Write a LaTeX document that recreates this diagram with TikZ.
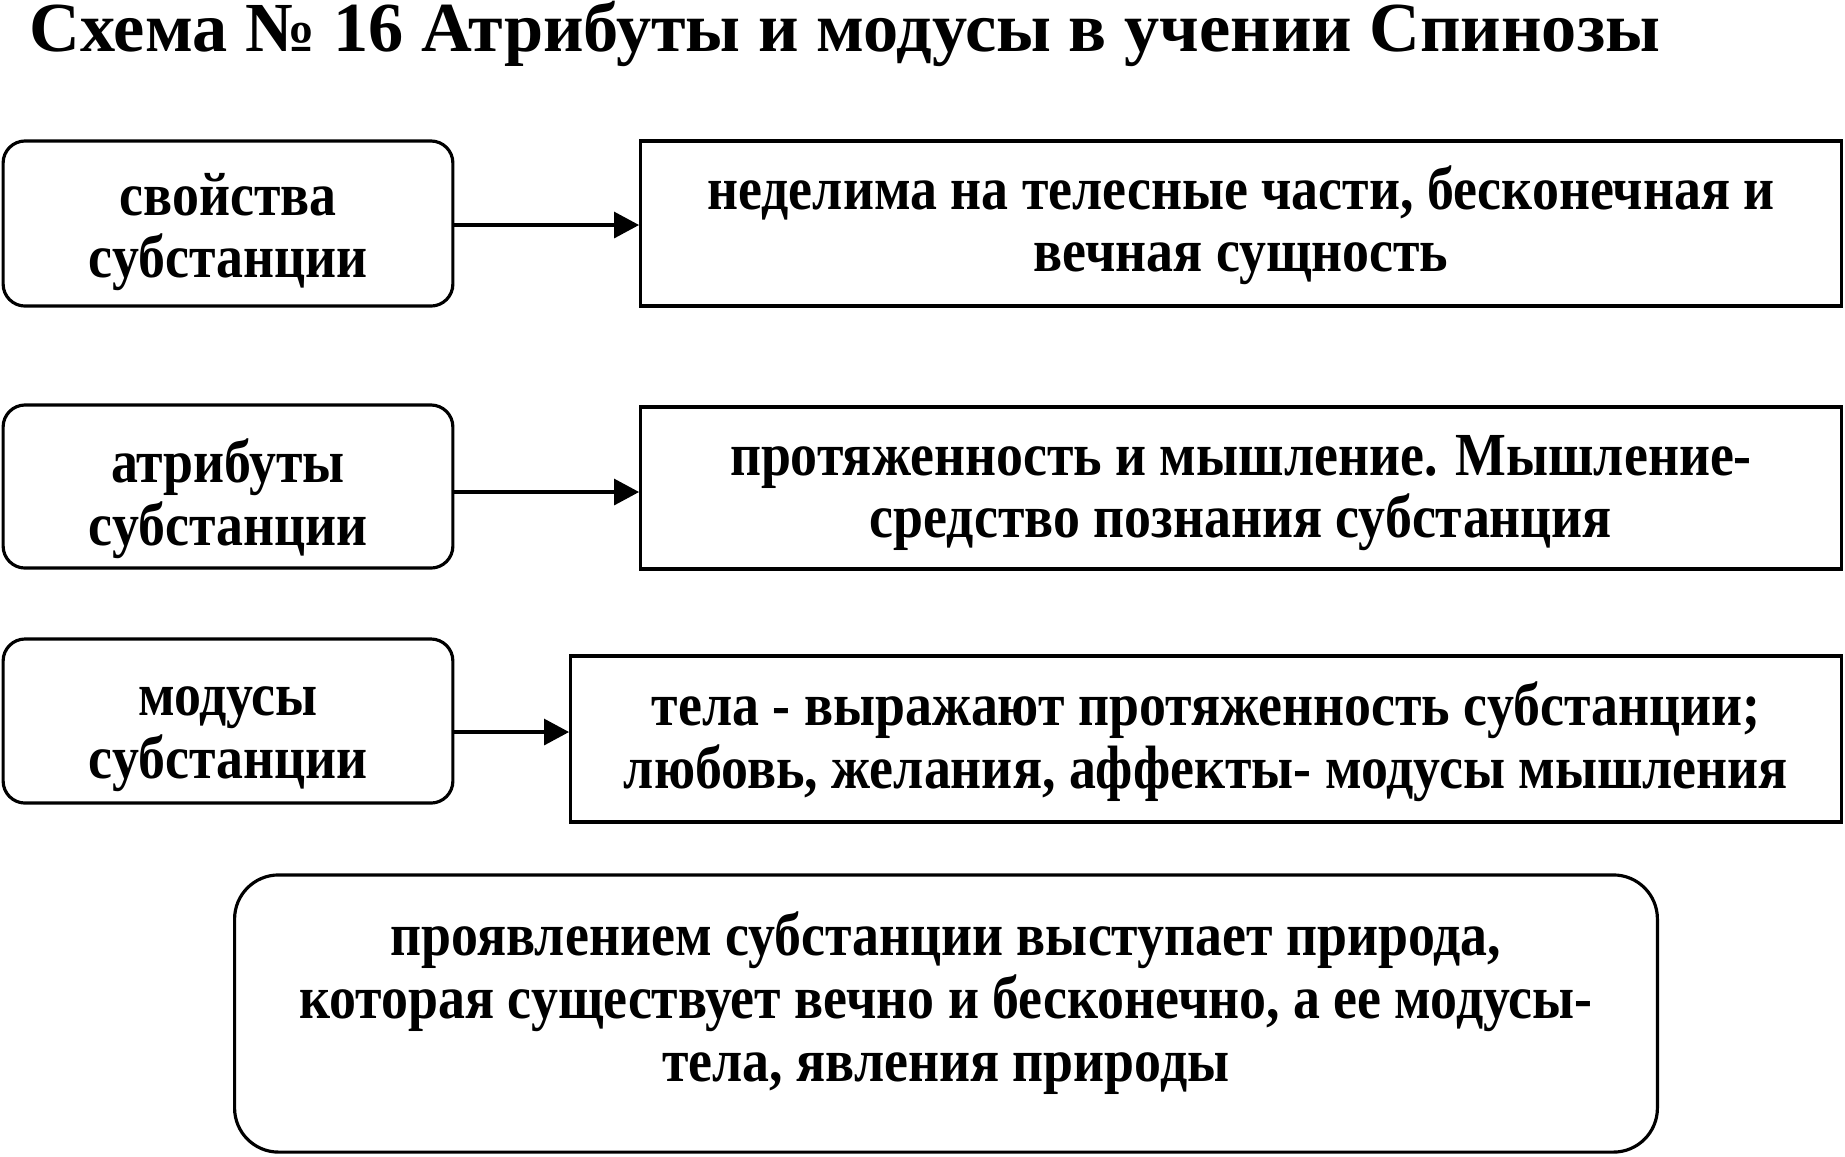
\documentclass[tikz,border=0pt]{standalone}
\usepackage{fontspec}
\setmainfont{Liberation Serif}[FakeStretch=0.88]
\newfontfamily\headfont{Liberation Serif}
\usetikzlibrary{arrows.meta}
\tikzset{
  term/.style={draw, line width=0.9pt, rounded corners=0.22cm, align=flush center,
    inner sep=0pt, minimum width=4.495cm, text width=4.3cm, text depth=0.5cm,
    font=\bfseries\fontsize{17.4pt}{17.9pt}\selectfont},
  meaning/.style={term, sharp corners},
  summary/.style={term, rounded corners=0.44cm},
  link/.style={line width=0.9pt, -{Triangle[length=0.25cm,width=0.26cm]}}
}
\begin{document}
\begin{tikzpicture}[x=0.01cm,y=-0.01cm]
  \useasboundingbox (0,0) rectangle (1845,1156);
  \node[anchor=base west, inner sep=0pt, font=\headfont\bfseries\fontsize{20pt}{20pt}\selectfont] (title) at (29,51)
    {Схема № 16 Атрибуты и модусы в учении Спинозы};
  % left column
  \node[term, minimum height=1.65cm, text height=0.33cm] (props) at (228,223.5) {свойства\\субстанции};
  \node[term, minimum height=1.63cm, text height=0.42cm] (attrs) at (228,486.5) {атрибуты\\субстанции};
  \node[term, minimum height=1.64cm, text height=0.39cm] (modes) at (228,721) {модусы\\субстанции};
  % right column
  \node[meaning, minimum width=12cm, text width=11.8cm, minimum height=1.65cm, text height=0.21cm] (propsR) at (1241,223.5)
    {неделима на телесные части, бесконечная и\\вечная сущность};
  \node[meaning, minimum width=12cm, text width=11.8cm, minimum height=1.62cm, text height=0.24cm] (attrsR) at (1241,488)
    {протяженность и мышление. Мышление-\\средство познания субстанция};
  \node[meaning, minimum width=12.7cm, text width=12.5cm, minimum height=1.66cm, text height=0.23cm] (modesR) at (1206,739)
    {тела - выражают протяженность субстанции;\\любовь, желания, аффекты- модусы мышления};
  \node[summary, minimum width=14.22cm, text width=14cm, minimum height=2.77cm,
    text height=0.35cm, text depth=1.5cm] (nature) at (946,1013.5)
    {проявлением субстанции выступает природа,\\которая существует вечно и бесконечно, а ее модусы-\\тела, явления природы};
  \draw[link] ([yshift=-0.015cm]props.east) -- ([yshift=-0.015cm]props.east -| propsR.west);
  \draw[link] ([yshift=-0.055cm]attrs.east) -- ([yshift=-0.055cm]attrs.east -| attrsR.west);
  \draw[link] ([yshift=-0.11cm]modes.east) -- ([yshift=-0.11cm]modes.east -| modesR.west);
\end{tikzpicture}
\end{document}
